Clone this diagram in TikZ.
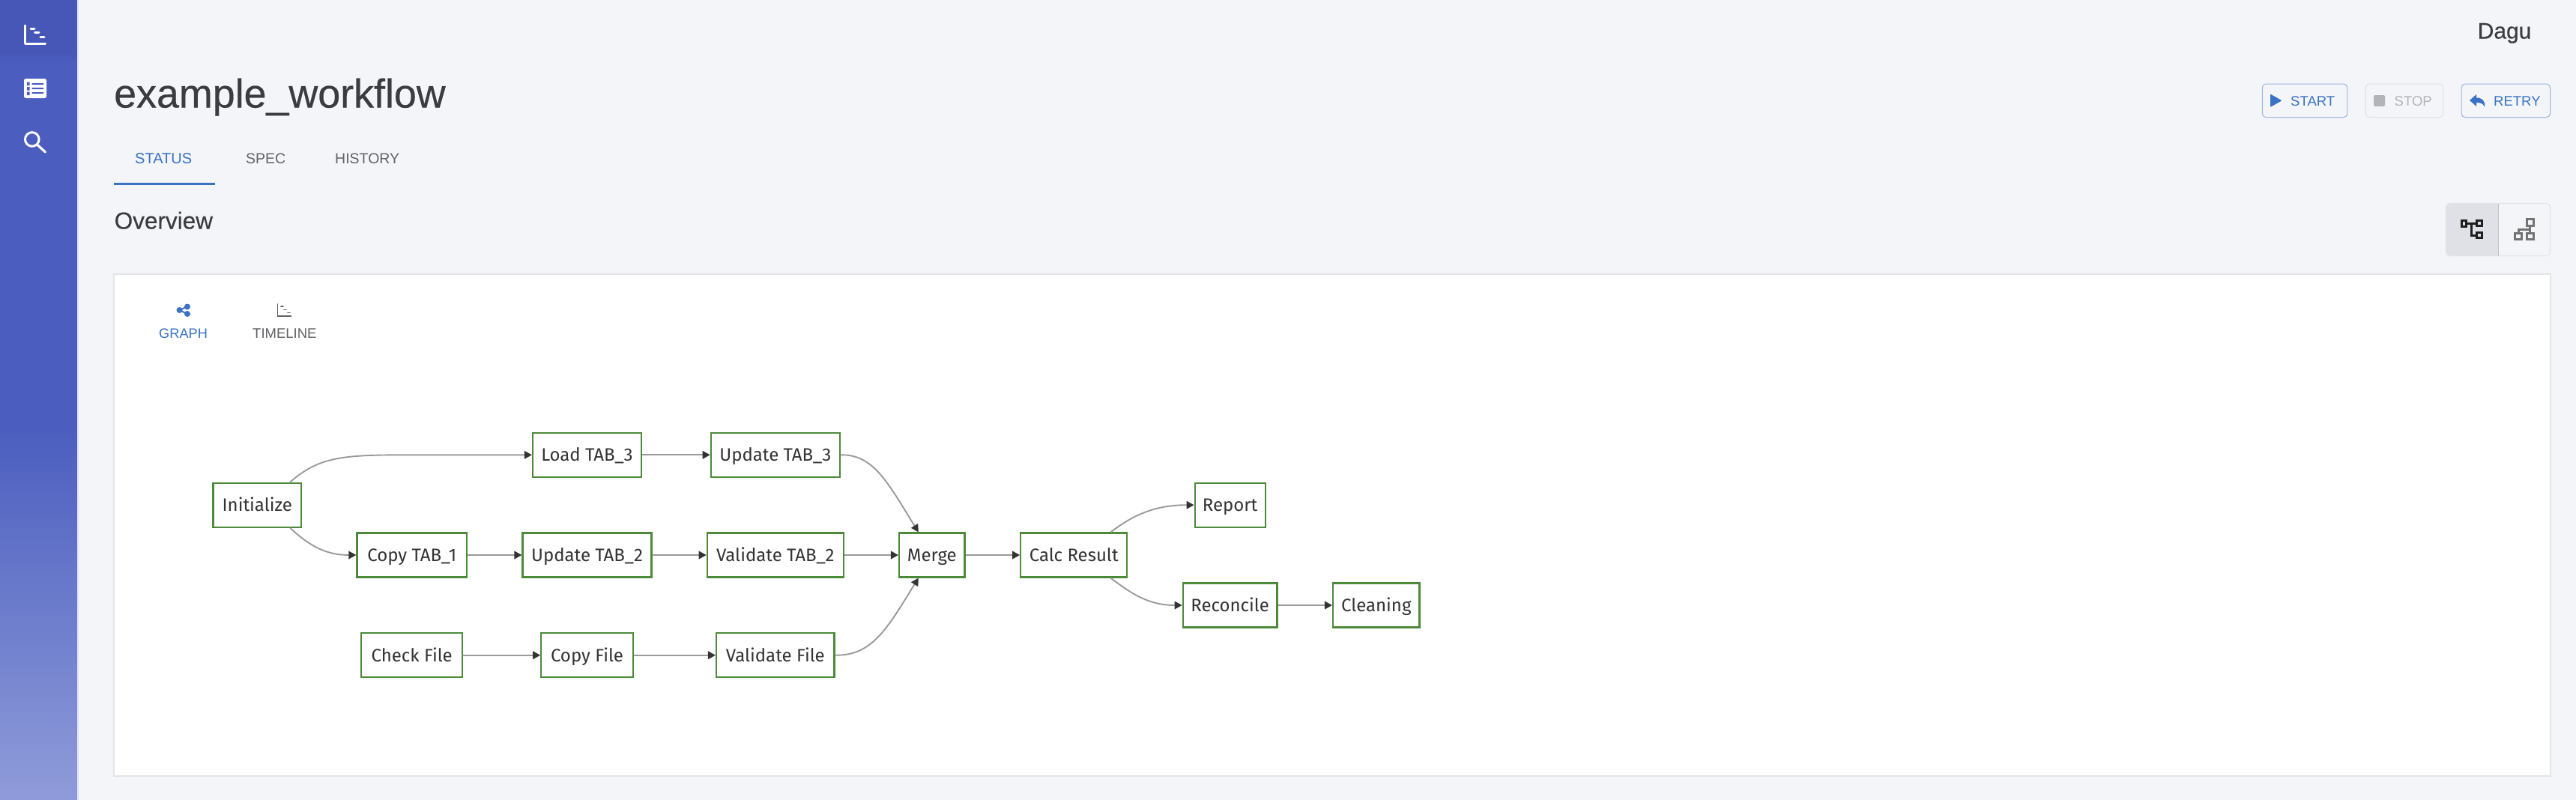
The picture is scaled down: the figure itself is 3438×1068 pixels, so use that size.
\documentclass[tikz,border=0pt]{standalone}
\usepackage{fontspec}
\setmainfont{Liberation Sans}
\newfontfamily\nodefont{Fira Sans}
\newfontfamily\heavyfont[FakeBold=0.4]{Liberation Sans}
\usetikzlibrary{arrows.meta,shadings}
\definecolor{pagebg}{HTML}{F3F5F9}
\definecolor{sidemid}{HTML}{4B5EBF}
\definecolor{sidelow}{HTML}{8F9BD9}
\definecolor{sidehi}{HTML}{4757B8}
\definecolor{inkdark}{HTML}{3C3C40}
\definecolor{uiblue}{HTML}{3A72C4}
\definecolor{uigrey}{HTML}{626266}
\definecolor{offgrey}{HTML}{B4B4B8}
\definecolor{panelline}{HTML}{E3E4E8}
\definecolor{btnblue}{HTML}{9DB4E0}
\definecolor{btnoff}{HTML}{E0E1E6}
\definecolor{stepgreen}{HTML}{4C8A3A}
\definecolor{edgegrey}{HTML}{9A9A9A}
\definecolor{tipdark}{HTML}{333333}
\definecolor{activebg}{HTML}{E0E1E6}
\tikzset{
  x=1pt,y=-1pt,
  stepbox/.style={draw=stepgreen,line width=2.2pt,fill=white,text=tipdark,font=\nodefont\fontsize{24}{24}\selectfont,inner sep=0pt,minimum height=59pt,text height=22pt,text depth=5pt},
  flow/.style={draw=edgegrey,line width=1.9pt,-{Triangle[length=10pt,width=10.5pt,color=tipdark]}},
  lbl/.style={inner sep=0pt,anchor=base west},
  btn/.style={draw=btnblue,line width=1pt,rounded corners=5pt,minimum height=44.5pt,inner sep=0pt},
  whiteicon/.style={draw=white,line width=3pt,line cap=round,line join=round},
}
\begin{document}
\begin{tikzpicture}
\useasboundingbox (0,0) rectangle (3438,1068);
\fill[pagebg] (0,0) rectangle (3438,1068);
% sidebar
\fill[sidemid] (0,0) rectangle (103,572);
\shade[top color=sidemid,bottom color=sidelow] (0,570) rectangle (103,1068);
\shade[top color=sidehi,bottom color=sidemid] (0,70) rectangle (103,86);
\fill[sidehi] (0,0) rectangle (103,70);
\fill[white!88!blue] (103,0) rectangle (104.5,1068);
% sidebar icons
\draw[whiteicon] (33.5,34) -- (33.5,58) -- (60.5,58);
\draw[whiteicon] (41,38) -- (46,38) (46.5,43.7) -- (52,43.7) (54,49.5) -- (59,49.5);
\fill[white,rounded corners=2.5pt] (32,105) rectangle (62,131);
\fill[sidemid] (36,109.5) rectangle (39.5,114) (36,116) rectangle (39.5,120.5) (36,122.5) rectangle (39.5,127);
\fill[sidemid] (42.5,111) rectangle (58,113) (42.5,117) rectangle (58,119) (42.5,123) rectangle (58,125);
\draw[whiteicon] (42.8,186) circle (9.3);
\draw[whiteicon,line width=3.2pt] (50,193.5) -- (60.5,203);
% header
\node[lbl,text=inkdark,font=\heavyfont\fontsize{30}{30}\selectfont] (dagu) at (3306.5,51.5) {Dagu};
\node[lbl,text=inkdark,font=\heavyfont\fontsize{53.8}{53.8}\selectfont] (title) at (152,143.5) {example\_workflow};
% tabs
\node[lbl,text=uiblue,font=\fontsize{20}{20}\selectfont] (tabstatus) at (180,218) {STATUS};
\node[lbl,text=uigrey,font=\fontsize{19.5}{19.5}\selectfont] (tabspec) at (328,218) {SPEC};
\node[lbl,text=uigrey,font=\fontsize{19.5}{19.5}\selectfont] (tabhist) at (447,218) {HISTORY};
\fill[uiblue] (152,244.3) rectangle (287,247);
\node[lbl,text=inkdark,font=\heavyfont\fontsize{31.5}{31.5}\selectfont] (overview) at (152.5,305.5) {Overview};
% buttons
\node[btn,minimum width=113.5pt] (bstart) at (3076,134.3) {};
\fill[uiblue,rounded corners=1pt] (3030,125.5) -- (3045.5,134.3) -- (3030,143) -- cycle;
\node[lbl,text=uiblue,font=\fontsize{18.5}{18.5}\selectfont] (tstart) at (3057,141.5) {START};
\node[btn,draw=btnoff,minimum width=103.5pt] (bstop) at (3209,134.3) {};
\fill[offgrey,rounded corners=1.5pt] (3168,127) rectangle (3183,142);
\node[lbl,text=offgrey,font=\fontsize{18.5}{18.5}\selectfont] (tstop) at (3195.5,141.5) {STOP};
\node[btn,minimum width=118.5pt] (bretry) at (3344.3,134.3) {};
\fill[uiblue] (3296,134) -- (3305,126) -- (3305,130.5) .. controls (3313,130.5) and (3317,135) .. (3316,143) .. controls (3314,138) and (3311,137) .. (3305,137) -- (3305,142) -- cycle;
\node[lbl,text=uiblue,font=\fontsize{18.5}{18.5}\selectfont] (tretry) at (3328,141.5) {RETRY};
% view toggle
\fill[activebg] (3334.8,271.5) [rounded corners=5pt] -- (3264.5,271.5) -- (3264.5,341.5) [sharp corners] -- (3334.8,341.5) -- cycle;
\draw[panelline,line width=1.1pt,rounded corners=5pt] (3264.5,271.5) rectangle (3403.5,341.5);
\draw[black!25,line width=1pt] (3334.8,271.5) -- (3334.8,341.5);
\begin{scope}[line width=3pt]
\draw[black!88] (3285.8,294.8) rectangle (3291.8,302.5);
\draw[black!88] (3305.5,294.5) rectangle (3312.5,301.2) (3305.5,310.5) rectangle (3312.5,317.5);
\draw[black!88] (3291.8,298) -- (3305.5,298) (3298.3,298) -- (3298.3,314) -- (3305.5,314);
\draw[black!55] (3372.2,292.5) rectangle (3381.2,301.2);
\draw[black!55] (3356.8,311.5) rectangle (3365.8,319.5) (3372.2,311.5) rectangle (3381.2,319.5);
\draw[black!55] (3376.7,301.2) -- (3376.7,311.5) (3361.3,311.5) -- (3361.3,306) -- (3376.7,306);
\end{scope}
% panel
\node[draw=panelline,fill=white,line width=1.1pt,inner sep=0pt,minimum width=3252pt,minimum height=670pt] (panel) at (1778,701) {};
% graph / timeline switch
\fill[uiblue] (250,409.5) circle (4) (250,419) circle (4) (239.5,414) circle (4);
\draw[uiblue,line width=2pt] (250,409.5) -- (239.5,414) -- (250,419);
\node[lbl,text=uiblue,font=\fontsize{18.2}{18.2}\selectfont] (tgraph) at (212,451.5) {GRAPH};
\draw[uigrey,line width=1.7pt,line cap=round] (370.5,406) -- (370.5,422) -- (388.5,422);
\draw[uigrey,line width=1.7pt,line cap=round] (375,409) -- (378,409) (379,413.5) -- (382,413.5) (384,417.5) -- (387,417.5);
\node[lbl,text=uigrey,font=\fontsize{18.5}{18.5}\selectfont] (ttime) at (337,451.5) {TIMELINE};
% workflow nodes
\node[stepbox,minimum width=117.5pt] (init) at (343.3,674.2) {Initialize};
\node[stepbox,minimum width=145pt] (load) at (783.5,607.3) {Load TAB\_3};
\node[stepbox,minimum width=172pt] (up3) at (1034.8,607.3) {Update TAB\_3};
\node[stepbox,minimum width=146.5pt] (copy1) at (549.7,741) {Copy TAB\_1};
\node[stepbox,minimum width=172pt] (up2) at (783.5,741) {Update TAB\_2};
\node[stepbox,minimum width=182pt] (val2) at (1034.8,741) {Validate TAB\_2};
\node[stepbox,minimum width=135pt] (check) at (549.7,874.7) {Check File};
\node[stepbox,minimum width=122.5pt] (cfile) at (783.5,874.7) {Copy File};
\node[stepbox,minimum width=157.5pt] (vfile) at (1034.8,874.7) {Validate File};
\node[stepbox,minimum width=87.5pt] (merge) at (1243.8,741) {Merge};
\node[stepbox,minimum width=142pt] (calc) at (1433.2,741) {Calc Result};
\node[stepbox,minimum width=94pt] (report) at (1641.6,674.2) {Report};
\node[stepbox,minimum width=125.8pt] (recon) at (1641.6,808) {Reconcile};
\node[stepbox,minimum width=115.5pt] (clean) at (1836.8,808) {Cleaning};
\coordinate (loadbend) at (540,607.3);
% connectors
\draw[flow] (load) -- (up3);
\draw[flow] (copy1) -- (up2);
\draw[flow] (up2) -- (val2);
\draw[flow] (val2) -- (merge);
\draw[flow] (merge) -- (calc);
\draw[flow] (check) -- (cfile);
\draw[flow] (cfile) -- (vfile);
\draw[flow] (recon) -- (clean);
\draw[flow] ([xshift=-16pt]init.north east) .. controls +(38,-33) and +(-85,0) .. (loadbend) -- (load.west);
\draw[flow] ([xshift=-16pt]init.south east) .. controls +(28,26) and +(-38,0) .. (copy1.west);
\draw[flow] (up3.east) .. controls +(44,-1) and +(-41,-66) .. ([xshift=-18pt]merge.north);
\draw[flow] (vfile.east) .. controls +(50,1) and +(-41,66) .. ([xshift=-18pt]merge.south);
\draw[flow] ([xshift=-23pt]calc.north east) .. controls +(28,-21) and +(-55,0) .. (report.west);
\draw[flow] ([xshift=-23pt]calc.south east) .. controls +(28,21) and +(-45,0) .. (recon.west);
\end{tikzpicture}
\end{document}
